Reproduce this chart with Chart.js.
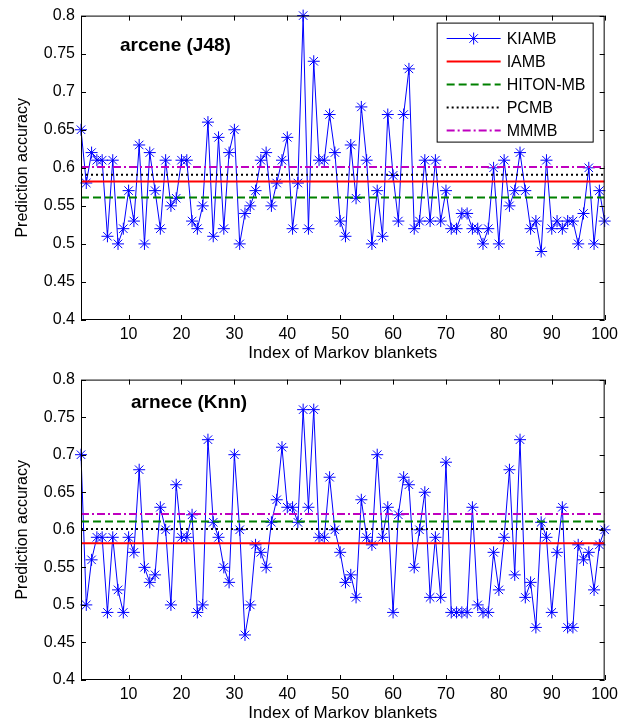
<!DOCTYPE html>
<html>
<head>
<meta charset="utf-8">
<script src="https://cdn.jsdelivr.net/npm/chart.js@4/dist/chart.umd.min.js"></script>
<style>
    body { margin: 0; background: #fff; }
    .panel { position: absolute; left: 0; width: 623px; }
    #panel-top { top: 0; height: 364px; }
    #panel-bottom { top: 364px; height: 360px; }
</style>
</head>
<body>
<div class="panel" id="panel-top"><canvas id="chart-top"></canvas></div>
<div class="panel" id="panel-bottom"><canvas id="chart-bottom"></canvas></div>
<script>
// accuracy of each of the 100 markov blankets found by KIAMB
const arceneJ48 = [
    0.65, 0.58, 0.62, 0.61, 0.61, 0.51, 0.61, 0.50, 0.52, 0.57,
    0.53, 0.63, 0.50, 0.62, 0.57, 0.52, 0.61, 0.55, 0.56, 0.61,
    0.61, 0.53, 0.52, 0.55, 0.66, 0.51, 0.64, 0.52, 0.62, 0.65,
    0.50, 0.54, 0.55, 0.57, 0.61, 0.62, 0.55, 0.58, 0.61, 0.64,
    0.52, 0.58, 0.80, 0.52, 0.74, 0.61, 0.61, 0.67, 0.62, 0.53,
    0.51, 0.63, 0.56, 0.68, 0.61, 0.50, 0.57, 0.51, 0.67, 0.59,
    0.53, 0.67, 0.73, 0.52, 0.53, 0.61, 0.53, 0.61, 0.53, 0.57,
    0.52, 0.52, 0.54, 0.54, 0.52, 0.52, 0.50, 0.52, 0.60, 0.50,
    0.61, 0.55, 0.57, 0.62, 0.57, 0.52, 0.53, 0.49, 0.61, 0.52,
    0.53, 0.52, 0.53, 0.53, 0.50, 0.54, 0.60, 0.50, 0.57, 0.53
]
const arceneKnn = [
    0.70, 0.50, 0.56, 0.59, 0.59, 0.49, 0.59, 0.52, 0.49, 0.59,
    0.57, 0.68, 0.55, 0.53, 0.54, 0.63, 0.60, 0.50, 0.66, 0.59,
    0.59, 0.62, 0.49, 0.50, 0.72, 0.61, 0.59, 0.55, 0.53, 0.70,
    0.60, 0.46, 0.50, 0.58, 0.57, 0.55, 0.61, 0.64, 0.71, 0.63,
    0.63, 0.61, 0.76, 0.63, 0.76, 0.59, 0.59, 0.67, 0.60, 0.57,
    0.53, 0.54, 0.51, 0.64, 0.59, 0.58, 0.70, 0.59, 0.63, 0.49,
    0.62, 0.67, 0.66, 0.55, 0.60, 0.65, 0.51, 0.59, 0.51, 0.69,
    0.49, 0.49, 0.49, 0.49, 0.63, 0.50, 0.49, 0.49, 0.57, 0.52,
    0.59, 0.68, 0.54, 0.72, 0.51, 0.53, 0.47, 0.61, 0.59, 0.49,
    0.57, 0.63, 0.47, 0.47, 0.58, 0.56, 0.57, 0.52, 0.58, 0.60
]

// single accuracy of the other methods: IAMB, HITON-MB, PCMB, MMMB
const baselineNames = ['IAMB', 'HITON-MB', 'PCMB', 'MMMB']
const baselinesJ48 = [0.582, 0.561, 0.591, 0.601]
const baselinesKnn = [0.582, 0.611, 0.601, 0.621]

const xTicks = [10, 20, 30, 40, 50, 60, 70, 80, 90, 100]
const yTicks = [0.4, 0.45, 0.5, 0.55, 0.6, 0.65, 0.7, 0.75, 0.8]
const yTickLabels = ['0.4', '0.45', '0.5', '0.55', '0.6', '0.65', '0.7', '0.75', '0.8']

const styles = {
    'KIAMB': { color: '#0000ff', width: 1, dash: [] },
    'IAMB': { color: '#ff0000', width: 2, dash: [] },
    'HITON-MB': { color: '#008000', width: 2, dash: [8, 4] },
    'PCMB': { color: '#000000', width: 2, dash: [2, 3] },
    'MMMB': { color: '#bf00bf', width: 2, dash: [8, 3, 2, 3] }
}

const fontFamily = 'Arial, "Liberation Sans", sans-serif'
const font = { family: fontFamily, size: 16 }

const boxPlugin = {
    id: 'box',
    afterDraw(chart, args, opts){
        const { ctx, chartArea: a, scales } = chart
        ctx.save()
        ctx.strokeStyle = '#000'
        ctx.lineWidth = 1
        ctx.setLineDash([])
        ctx.strokeRect(a.left + 0.5, a.top + 0.5, a.width - 1, a.height - 1)

        // matlab style inner ticks on all four sides
        ctx.beginPath()
        xTicks.forEach(v => {
            const px = Math.round(scales.x.getPixelForValue(v)) + 0.5
            ctx.moveTo(px, a.bottom); ctx.lineTo(px, a.bottom - 5)
            ctx.moveTo(px, a.top); ctx.lineTo(px, a.top + 5)
        })
        yTicks.forEach(v => {
            const py = Math.round(scales.y.getPixelForValue(v)) + 0.5
            ctx.moveTo(a.left, py); ctx.lineTo(a.left + 5, py)
            ctx.moveTo(a.right, py); ctx.lineTo(a.right - 5, py)
        })
        ctx.stroke()

        ctx.fillStyle = '#000'
        ctx.font = 'bold 19px ' + fontFamily
        ctx.textBaseline = 'middle'
        ctx.fillText(opts.title, a.left + opts.titleX, a.top + opts.titleY)

        if(opts.legend) drawLegend(chart)
        ctx.restore()
    }
}

function drawLegend(chart){
    const { ctx, chartArea: a } = chart
    const left = a.right - 168
    const top = a.top + 7
    ctx.fillStyle = '#fff'
    ctx.fillRect(left, top, 156, 119)
    ctx.strokeStyle = '#000'
    ctx.lineWidth = 1
    ctx.strokeRect(left + 0.5, top + 0.5, 156, 119)

    ctx.font = '16px ' + fontFamily
    ctx.textBaseline = 'middle'
    chart.data.datasets.forEach((ds, i) => {
        const y = Math.round(top + 15 + i * 23) + 0.5
        ctx.strokeStyle = ds.borderColor
        ctx.lineWidth = ds.borderWidth
        ctx.setLineDash(ds.borderDash)
        ctx.beginPath()
        ctx.moveTo(left + 10, y)
        ctx.lineTo(left + 64, y)
        ctx.stroke()
        ctx.setLineDash([])
        if(ds.pointStyle === 'star'){
            ctx.fillStyle = ds.borderColor
            Chart.helpers.drawPoint(ctx, { pointStyle: 'star', radius: ds.pointRadius, borderWidth: 1, rotation: 0 }, left + 37, y)
        }
        ctx.fillStyle = '#000'
        ctx.fillText(ds.label, left + 70, y + 1)
    })
}

function createChart(id, values, baselines, title, titleX, titleY, padTop, legend){
    const kiamb = styles['KIAMB']
    const datasets = [{
        label: 'KIAMB',
        data: values.map((v, i) => ({ x: i + 1, y: v })),
        borderColor: kiamb.color,
        borderWidth: kiamb.width,
        borderDash: kiamb.dash,
        pointStyle: 'star',
        pointRadius: 6,
        pointBorderColor: kiamb.color,
        pointBackgroundColor: kiamb.color,
        pointBorderWidth: 1,
        tension: 0,
        clip: 10,
        order: 5
    }]
    baselineNames.forEach((name, i) => {
        const s = styles[name]
        datasets.push({
            label: name,
            data: [{ x: 1, y: baselines[i] }, { x: 100, y: baselines[i] }],
            borderColor: s.color,
            borderWidth: s.width,
            borderDash: s.dash,
            pointRadius: 0,
            order: 0
        })
    })

    return new Chart(document.getElementById(id), {
        type: 'line',
        data: { datasets },
        options: {
            responsive: true,
            maintainAspectRatio: false,
            animation: false,
            layout: { padding: { top: padTop, right: 16, bottom: 0, left: 0 } },
            plugins: {
                legend: { display: false },
                tooltip: { enabled: false },
                box: { title, titleX, titleY, legend }
            },
            scales: {
                x: {
                    type: 'linear',
                    min: 1,
                    max: 100,
                    afterBuildTicks: s => { s.ticks = xTicks.map(v => ({ value: v })) },
                    afterFit: s => { s.height = 44 },
                    grid: { display: false, drawTicks: false },
                    border: { display: false },
                    ticks: { color: '#000', font, padding: 5, autoSkip: false, maxRotation: 0, callback: v => String(v) },
                    title: { display: true, text: 'Index of Markov blankets', color: '#000', font: { family: fontFamily, size: 17 }, padding: 0 }
                },
                y: {
                    type: 'linear',
                    min: 0.4,
                    max: 0.8,
                    afterBuildTicks: s => { s.ticks = yTicks.map(v => ({ value: v })) },
                    afterFit: s => { s.width = 81 },
                    grid: { display: false, drawTicks: false },
                    border: { display: false },
                    ticks: { color: '#000', font, padding: 6, autoSkip: false, callback: (v, i) => yTickLabels[i] },
                    title: { display: true, text: 'Prediction accuracy', color: '#000', font, padding: { top: 13, bottom: 0 } }
                }
            }
        },
        plugins: [boxPlugin]
    })
}

createChart('chart-top', arceneJ48, baselinesJ48, 'arcene (J48)', 39, 30, 15, true)
createChart('chart-bottom', arceneKnn, baselinesKnn, 'arnece (Knn)', 50, 23, 13, false)
</script>
</body>
</html>
